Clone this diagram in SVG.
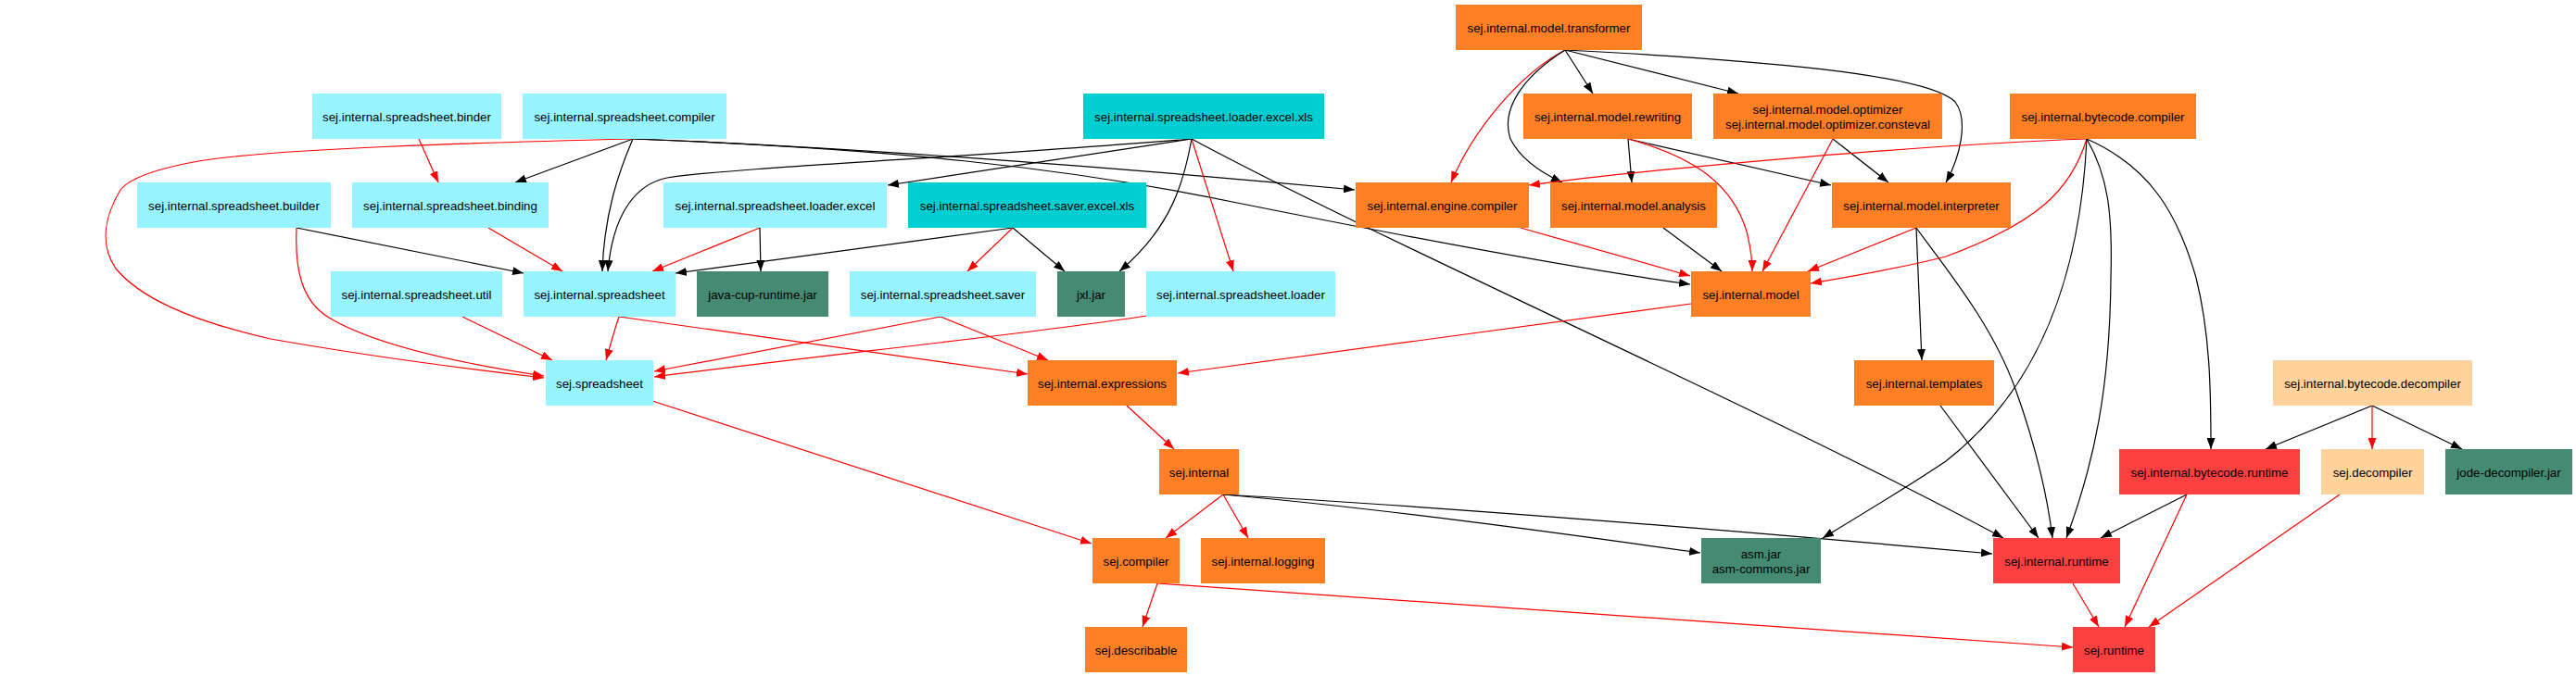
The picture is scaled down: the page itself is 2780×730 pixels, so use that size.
<svg xmlns="http://www.w3.org/2000/svg" width="2780" height="730" viewBox="0 0 2780 730">
<defs>
<style>
.n rect{stroke:none}
.n text{font-family:"Liberation Sans",Arial,sans-serif;font-size:13.3px;fill:#000;text-anchor:middle}
.cy rect{fill:#98F5FF}
.dt rect{fill:#00CED1}
.aq rect{fill:#458B74}
.or rect{fill:#FF7F24}
.br rect{fill:#FF4040}
.bw rect{fill:#FFD39B}
.e path{fill:none;stroke-width:1.2}
.k{stroke:#000;marker-end:url(#ak)}
.r{stroke:#FF0000;marker-end:url(#ar)}
</style>
<marker id="ak" markerWidth="12" markerHeight="9" refX="12" refY="4.5" orient="auto" markerUnits="userSpaceOnUse"><path d="M0,0 L12,4.5 L0,9 z" fill="#000"/></marker>
<marker id="ar" markerWidth="12" markerHeight="9" refX="12" refY="4.5" orient="auto" markerUnits="userSpaceOnUse"><path d="M0,0 L12,4.5 L0,9 z" fill="#FF0000"/></marker>
</defs>
<rect width="2780" height="730" fill="#fff"/>
<g id="edges" class="e">
<path class="r" d="M452,150 L473,197"/>
<path class="k" d="M683,150 L556,197"/>
<path class="k" d="M683,150 C668,185 652,230 650,293"/>
<path class="k" d="M1286,150 C1050,170 800,180 720,192 C690,198 662,225 656,293"/>
<path class="k" d="M683,150 C900,158 1200,180 1462,205"/>
<path class="k" d="M683,150 C950,160 1150,180 1340,220 C1500,252 1700,290 1824,307"/>
<path class="r" d="M683,150 C520,154 300,160 214,174 C170,182 140,192 130,205 C112,235 108,265 125,290 C150,320 200,345 292,366 C400,385 500,398 587,408"/>
<path class="k" d="M320,246 L565,295"/>
<path class="r" d="M320,246 C318,290 325,325 355,343 C400,370 480,390 587,406"/>
<path class="r" d="M527,246 L607,293"/>
<path class="r" d="M499,342 L596,389"/>
<path class="r" d="M668,342 C662,360 658,375 654,389"/>
<path class="r" d="M668,342 L1109,404"/>
<path class="r" d="M820,246 L704,293"/>
<path class="k" d="M820,246 L821,293"/>
<path class="k" d="M1286,150 L958,200"/>
<path class="k" d="M1093,246 L729,295"/>
<path class="r" d="M1093,246 L1044,293"/>
<path class="k" d="M1093,246 L1149,293"/>
<path class="k" d="M1286,150 C1278,195 1265,245 1208,293"/>
<path class="r" d="M1286,150 L1331,293"/>
<path class="k" d="M1286,150 C1500,265 1900,440 2162,581"/>
<path class="r" d="M1015,342 L706,401"/>
<path class="r" d="M1015,342 L1131,389"/>
<path class="r" d="M1238,341 C1100,362 900,382 706,407"/>
<path class="r" d="M1825,328 L1271,403"/>
<path class="r" d="M1216,438 L1267,485"/>
<path class="r" d="M1320,534 L1258,581"/>
<path class="r" d="M1320,534 L1347,581"/>
<path class="k" d="M1320,534 C1500,550 1700,578 1835,597"/>
<path class="k" d="M1320,534 C1600,550 1950,580 2150,598"/>
<path class="r" d="M704,433 L1178,587"/>
<path class="r" d="M1249,630 L1233,677"/>
<path class="r" d="M1249,630 L2237,699"/>
<path class="r" d="M1689,54 C1640,80 1590,140 1566,197"/>
<path class="k" d="M1689,54 C1640,85 1620,120 1630,150 C1640,170 1660,185 1686,197"/>
<path class="k" d="M1689,54 L1719,101"/>
<path class="k" d="M1689,54 L1876,101"/>
<path class="k" d="M1689,54 C1900,65 2080,80 2110,110 C2125,130 2115,170 2100,197"/>
<path class="k" d="M1757,150 L1761,197"/>
<path class="k" d="M1757,150 L1976,200"/>
<path class="r" d="M1757,150 C1830,170 1870,200 1885,250 C1890,270 1891,285 1891,293"/>
<path class="k" d="M1978,150 L2038,197"/>
<path class="r" d="M1978,150 L1902,293"/>
<path class="r" d="M1641,246 L1824,298"/>
<path class="k" d="M1795,246 L1858,293"/>
<path class="r" d="M2068,246 L1951,293"/>
<path class="k" d="M2068,246 L2074,389"/>
<path class="k" d="M2068,246 C2100,290 2150,350 2175,420 C2200,490 2210,540 2215,581"/>
<path class="r" d="M2252,150 C2100,155 1800,180 1650,200"/>
<path class="r" d="M2252,150 C2235,205 2200,240 2100,277 C2050,290 2000,298 1954,306"/>
<path class="k" d="M2252,150 C2245,300 2200,420 2100,498 C2060,525 2010,555 1967,581"/>
<path class="k" d="M2252,150 C2275,190 2280,230 2278,300 C2277,420 2260,500 2230,581"/>
<path class="k" d="M2252,150 C2320,180 2350,230 2370,300 C2385,360 2386,420 2386,485"/>
<path class="k" d="M2560,438 L2445,485"/>
<path class="r" d="M2560,438 L2560,485"/>
<path class="k" d="M2560,438 L2657,485"/>
<path class="k" d="M2360,534 L2267,581"/>
<path class="r" d="M2360,534 L2293,677"/>
<path class="r" d="M2525,534 L2319,677"/>
<path class="r" d="M2237,630 L2265,677"/>
<path class="k" d="M2094,438 L2200,581"/>
</g>
<g id="n_binder" class="n cy"><rect x="337" y="101" width="204" height="49"/><text x="439" y="130.5">sej.internal.spreadsheet.binder</text></g>
<g id="n_sscompiler" class="n cy"><rect x="564" y="101" width="220" height="49"/><text x="674" y="130.5">sej.internal.spreadsheet.compiler</text></g>
<g id="n_loaderxls" class="n dt"><rect x="1169" y="101" width="260" height="49"/><text x="1299" y="130.5">sej.internal.spreadsheet.loader.excel.xls</text></g>
<g id="n_transformer" class="n or"><rect x="1571" y="5" width="201" height="49"/><text x="1671.5" y="34.5">sej.internal.model.transformer</text></g>
<g id="n_rewriting" class="n or"><rect x="1644" y="101" width="182" height="49"/><text x="1735" y="130.5">sej.internal.model.rewriting</text></g>
<g id="n_optimizer" class="n or"><rect x="1849" y="101" width="247" height="49"/><text x="1972.5" y="122.5">sej.internal.model.optimizer</text><text x="1972.5" y="138.5">sej.internal.model.optimizer.consteval</text></g>
<g id="n_bccompiler" class="n or"><rect x="2169" y="101" width="201" height="49"/><text x="2269.5" y="130.5">sej.internal.bytecode.compiler</text></g>
<g id="n_builder" class="n cy"><rect x="148" y="197" width="209" height="49"/><text x="252.5" y="226.5">sej.internal.spreadsheet.builder</text></g>
<g id="n_binding" class="n cy"><rect x="380" y="197" width="212" height="49"/><text x="486" y="226.5">sej.internal.spreadsheet.binding</text></g>
<g id="n_loaderexcel" class="n cy"><rect x="716" y="197" width="241" height="49"/><text x="836.5" y="226.5">sej.internal.spreadsheet.loader.excel</text></g>
<g id="n_saverxls" class="n dt"><rect x="980" y="197" width="257" height="49"/><text x="1108.5" y="226.5">sej.internal.spreadsheet.saver.excel.xls</text></g>
<g id="n_engine" class="n or"><rect x="1463" y="197" width="187" height="49"/><text x="1556.5" y="226.5">sej.internal.engine.compiler</text></g>
<g id="n_analysis" class="n or"><rect x="1673" y="197" width="180" height="49"/><text x="1763" y="226.5">sej.internal.model.analysis</text></g>
<g id="n_interpreter" class="n or"><rect x="1977" y="197" width="193" height="49"/><text x="2073.5" y="226.5">sej.internal.model.interpreter</text></g>
<g id="n_util" class="n cy"><rect x="357" y="293" width="185" height="49"/><text x="449.5" y="322.5">sej.internal.spreadsheet.util</text></g>
<g id="n_ss" class="n cy"><rect x="565" y="293" width="164" height="49"/><text x="647" y="322.5">sej.internal.spreadsheet</text></g>
<g id="n_javacup" class="n aq"><rect x="752" y="293" width="142" height="49"/><text x="823" y="322.5">java-cup-runtime.jar</text></g>
<g id="n_saver" class="n cy"><rect x="917" y="293" width="201" height="49"/><text x="1017.5" y="322.5">sej.internal.spreadsheet.saver</text></g>
<g id="n_jxl" class="n aq"><rect x="1141" y="293" width="73" height="49"/><text x="1177.5" y="322.5">jxl.jar</text></g>
<g id="n_loader" class="n cy"><rect x="1237" y="293" width="204" height="49"/><text x="1339" y="322.5">sej.internal.spreadsheet.loader</text></g>
<g id="n_model" class="n or"><rect x="1825" y="293" width="129" height="49"/><text x="1889.5" y="322.5">sej.internal.model</text></g>
<g id="n_sejss" class="n cy"><rect x="589" y="389" width="116" height="49"/><text x="647" y="418.5">sej.spreadsheet</text></g>
<g id="n_expressions" class="n or"><rect x="1109" y="389" width="161" height="49"/><text x="1189.5" y="418.5">sej.internal.expressions</text></g>
<g id="n_templates" class="n or"><rect x="2001" y="389" width="151" height="49"/><text x="2076.5" y="418.5">sej.internal.templates</text></g>
<g id="n_decompiler" class="n bw"><rect x="2453" y="389" width="215" height="49"/><text x="2560.5" y="418.5">sej.internal.bytecode.decompiler</text></g>
<g id="n_internal" class="n or"><rect x="1251" y="485" width="86" height="49"/><text x="1294" y="514.5">sej.internal</text></g>
<g id="n_bcruntime" class="n br"><rect x="2287" y="485" width="195" height="49"/><text x="2384.5" y="514.5">sej.internal.bytecode.runtime</text></g>
<g id="n_sejdecompiler" class="n bw"><rect x="2505" y="485" width="111" height="49"/><text x="2560.5" y="514.5">sej.decompiler</text></g>
<g id="n_jode" class="n aq"><rect x="2639" y="485" width="137" height="49"/><text x="2707.5" y="514.5">jode-decompiler.jar</text></g>
<g id="n_compiler" class="n or"><rect x="1179" y="581" width="94" height="49"/><text x="1226" y="610.5">sej.compiler</text></g>
<g id="n_logging" class="n or"><rect x="1296" y="581" width="134" height="49"/><text x="1363" y="610.5">sej.internal.logging</text></g>
<g id="n_asm" class="n aq"><rect x="1836" y="581" width="129" height="49"/><text x="1900.5" y="602.5">asm.jar</text><text x="1900.5" y="618.5">asm-commons.jar</text></g>
<g id="n_iruntime" class="n br"><rect x="2151" y="581" width="137" height="49"/><text x="2219.5" y="610.5">sej.internal.runtime</text></g>
<g id="n_describable" class="n or"><rect x="1171" y="677" width="110" height="49"/><text x="1226" y="706.5">sej.describable</text></g>
<g id="n_runtime" class="n br"><rect x="2237" y="677" width="89" height="49"/><text x="2281.5" y="706.5">sej.runtime</text></g>
</svg>
